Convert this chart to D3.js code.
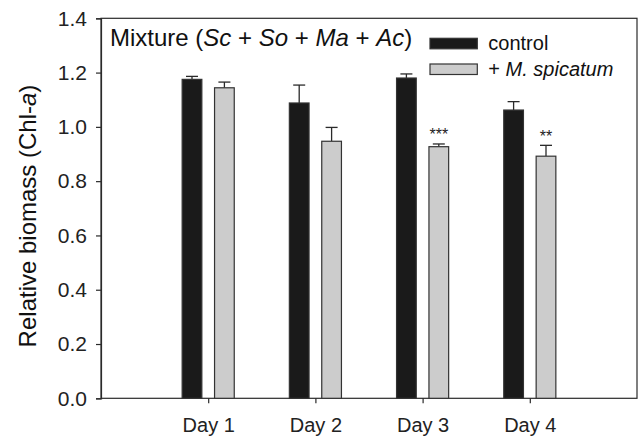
<!DOCTYPE html>
<html><head><meta charset="utf-8">
<script src="https://cdn.jsdelivr.net/npm/d3@7"></script>
<style>
html,body{margin:0;padding:0;background:#fff;}
svg{display:block;font-family:"Liberation Sans",Arial,sans-serif;}
</style></head>
<body>
<svg id="chart" width="639" height="438"></svg>
<script>
const days = ["Day 1", "Day 2", "Day 3", "Day 4"];
const controlValues = [1.175, 1.088, 1.180, 1.062];
const controlErrors = [0.011, 0.066, 0.015, 0.031];
const treatValues = [1.144, 0.947, 0.927, 0.892];
const treatErrors = [0.021, 0.051, 0.010, 0.040];
const significance = ["", "", "***", "**"];
const yTicks = [0.0, 0.2, 0.4, 0.6, 0.8, 1.0, 1.2, 1.4];
const seriesNames = ["control", "+ M. spicatum"];
const seriesColors = ["#1a1a1a", "#cccccc"];

(function () {
const svg = d3.select("#chart");
const pLeft = 101, pRight = 637, pTop = 18.3, pBottom = 398.3;
const x = d3.scaleLinear().domain([0, 5]).range([pLeft, pRight]);
const y = d3.scaleLinear().domain([0, 1.4]).range([pBottom, pTop]);
const ink = "#2a2a2a";

// frame
svg.append("rect").attr("x", pLeft).attr("y", pTop)
  .attr("width", pRight - pLeft).attr("height", pBottom - pTop)
  .attr("fill", "none").attr("stroke", ink).attr("stroke-width", 1.2);

// y axis
const yAxis = d3.axisLeft(y).tickValues(yTicks).tickFormat(d3.format(".1f")).tickSizeOuter(0).tickSize(5).tickPadding(9);
const gy = svg.append("g").attr("transform", `translate(${pLeft},0)`).call(yAxis);
gy.select(".domain").attr("stroke", ink).attr("stroke-width", 1.2);
gy.selectAll(".tick line").attr("stroke", ink).attr("stroke-width", 1.2);
gy.selectAll(".tick text").attr("font-size", 21).attr("fill", "#222").attr("font-family", "Liberation Sans, Arial, sans-serif");

// x axis
const xAxis = d3.axisBottom(x).tickValues([1, 2, 3, 4]).tickFormat((d, i) => days[i]).tickSizeOuter(0).tickSize(5).tickPadding(15);
const gx = svg.append("g").attr("transform", `translate(0,${pBottom})`).call(xAxis);
gx.select(".domain").remove();
gx.selectAll(".tick line").attr("stroke", ink).attr("stroke-width", 1.2);
gx.selectAll(".tick text").attr("font-size", 20).attr("fill", "#222").attr("font-family", "Liberation Sans, Arial, sans-serif");

// bars
const barW = 19.7, offset = 16.2, capW = 12;
const series = [
  {vals: controlValues, errs: controlErrors, off: -offset, color: seriesColors[0]},
  {vals: treatValues, errs: treatErrors, off: offset, color: seriesColors[1]}
];
series.forEach(s => {
  const g = svg.append("g");
  s.vals.forEach((v, i) => {
    const cx = x(i + 1) + s.off;
    const e = v + s.errs[i];
    g.append("line").attr("x1", cx).attr("x2", cx).attr("y1", y(v)).attr("y2", y(e))
      .attr("stroke", ink).attr("stroke-width", 1.3);
    g.append("line").attr("x1", cx - capW / 2).attr("x2", cx + capW / 2).attr("y1", y(e)).attr("y2", y(e))
      .attr("stroke", ink).attr("stroke-width", 1.3);
    g.append("rect").attr("x", cx - barW / 2).attr("y", y(v))
      .attr("width", barW).attr("height", y(0) - y(v))
      .attr("fill", s.color).attr("stroke", "#333").attr("stroke-width", 1.2);
  });
});

// significance stars
significance.forEach((t, i) => {
  if (!t) return;
  const cx = x(i + 1) + offset;
  svg.append("text").attr("x", cx).attr("y", y(treatValues[i] + treatErrors[i]) - 3.5)
    .attr("text-anchor", "middle").attr("font-size", 16).attr("fill", "#222").text(t);
});

// title
const title = svg.append("text").attr("x", 110).attr("y", 45.7).attr("font-size", 24).attr("fill", "#111");
title.append("tspan").text("Mixture (");
title.append("tspan").attr("font-style", "italic").text("Sc");
title.append("tspan").text(" + ");
title.append("tspan").attr("font-style", "italic").text("So");
title.append("tspan").text(" + ");
title.append("tspan").attr("font-style", "italic").text("Ma");
title.append("tspan").text(" + ");
title.append("tspan").attr("font-style", "italic").text("Ac");
title.append("tspan").text(")");

// legend
const legY = [38.3, 64];
seriesNames.forEach((n, i) => {
  svg.append("rect").attr("x", 430).attr("y", legY[i]).attr("width", 47.3).attr("height", 10.5)
    .attr("fill", seriesColors[i]).attr("stroke", "#333").attr("stroke-width", 1.2);
  const t = svg.append("text").attr("x", 488.3).attr("y", legY[i] + 11.7).attr("font-size", 20).attr("fill", "#111");
  if (i === 0) t.text(n);
  else { t.append("tspan").text("+ "); t.append("tspan").attr("font-style", "italic").text("M. spicatum"); }
});

// y title
const yt = svg.append("text").attr("transform", "translate(36,216) rotate(-90)")
  .attr("text-anchor", "middle").attr("font-size", 24).attr("fill", "#111");
yt.append("tspan").text("Relative biomass (Chl-");
yt.append("tspan").attr("font-style", "italic").text("a");
yt.append("tspan").text(")");
})();
</script>
</body></html>
